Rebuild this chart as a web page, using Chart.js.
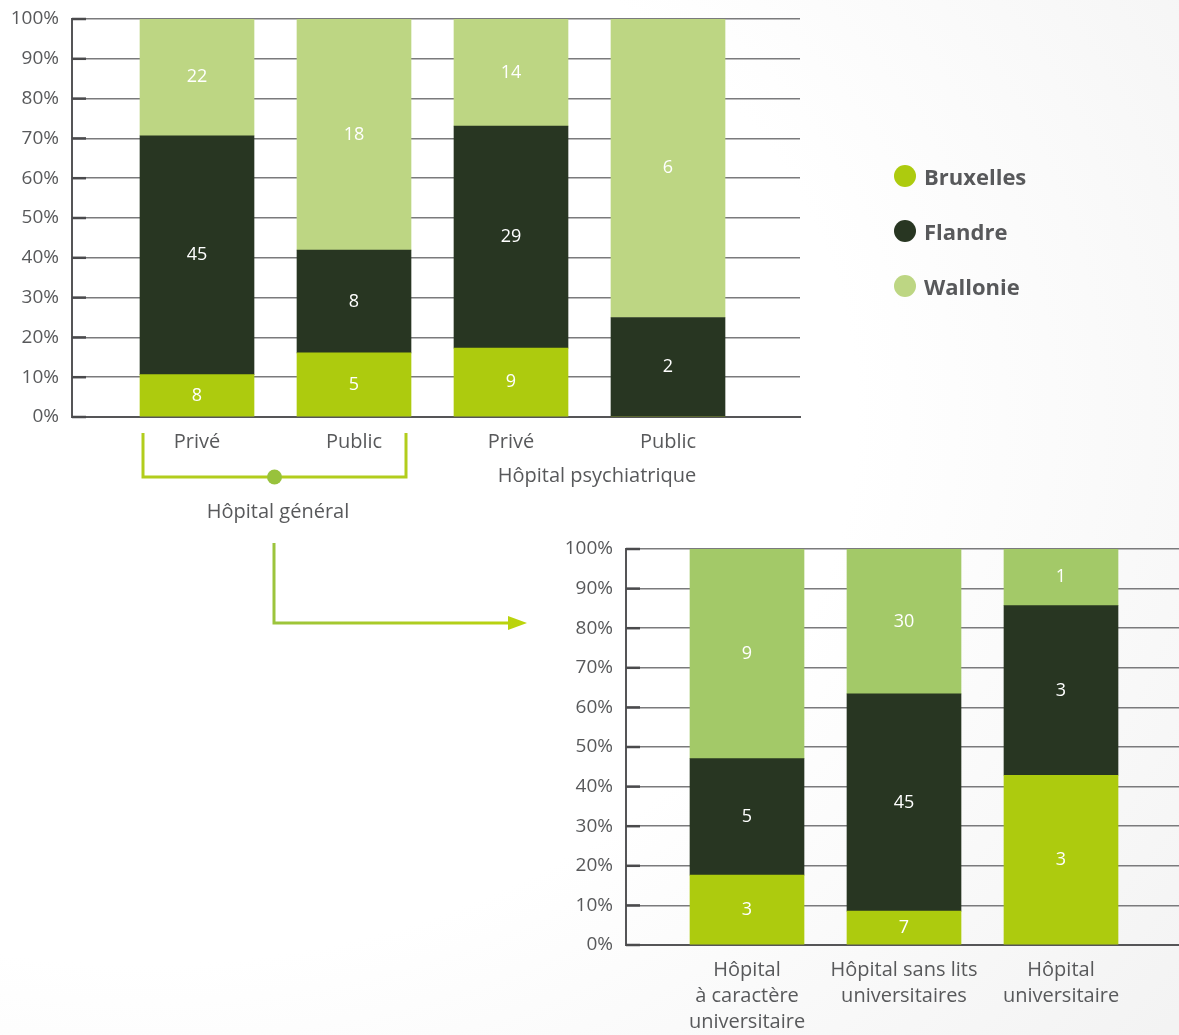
<!DOCTYPE html>
<html lang="fr">
<head>
<meta charset="utf-8">
<script src="https://cdn.jsdelivr.net/npm/chart.js@4.4.1/dist/chart.umd.min.js"></script>
<style>
    html, body { margin: 0; padding: 0; }
    body {
        width: 1179px; height: 1035px; position: relative; overflow: hidden;
        background: radial-gradient(ellipse 1300px 1000px at 12% 40%, #ffffff 55%, #f3f3f3 100%);
        font-family: "Open Sans", sans-serif;
    }
    canvas { position: absolute; left: 0; }
    #chart_top { top: 0; }
    #chart_bottom { top: 530px; }
    .legend { position: absolute; left: 894px; top: 148px; }
    .legend div { height: 55px; display: flex; align-items: center; font-weight: bold; font-size: 22px; color: #58595b; }
    .legend span { width: 22px; height: 22px; border-radius: 50%; margin-right: 8px; display: inline-block; }
</style>
</head>
<body>
<canvas id="chart_top" width="1179" height="540"></canvas>
<canvas id="chart_bottom" width="1179" height="505"></canvas>
<div class="legend">
    <div><span style="background:#adcb0e"></span>Bruxelles</div>
    <div><span style="background:#283622"></span>Flandre</div>
    <div><span style="background:#bdd683"></span>Wallonie</div>
</div>
<script>
// données (nombre d'hôpitaux)
const topLabels = ['Privé', 'Public', 'Privé', 'Public'];
const topBruxelles = [8, 5, 9, 0];
const topFlandre = [45, 8, 29, 2];
const topWallonie = [22, 18, 14, 6];

const bottomLabels = [['Hôpital', 'à caractère', 'universitaire'], ['Hôpital sans lits', 'universitaires'], ['Hôpital', 'universitaire']];
const bottomBruxelles = [3, 7, 3];
const bottomFlandre = [5, 45, 3];
const bottomWallonie = [9, 30, 1];

const textColor = '#58595b';
const fontFamily = '"Open Sans", sans-serif';

// pourcentage de chaque région dans la barre
function toPercent(counts, a, b, c) {
    return counts.map((v, i) => ({ x: i, y: v / (a[i] + b[i] + c[i]) * 100 }));
}

const valuePlugin = {
    id: 'values',
    afterDatasetsDraw(chart) {
        const ctx = chart.ctx;
        ctx.save();
        ctx.font = '18px ' + fontFamily;
        ctx.fillStyle = '#fff';
        ctx.textAlign = 'center';
        ctx.textBaseline = 'middle';
        chart.data.datasets.forEach((ds, di) => {
            chart.getDatasetMeta(di).data.forEach((bar, i) => {
                if (!ds.counts[i]) return;
                ctx.fillText(ds.counts[i], bar.x, (bar.y + bar.base) / 2);
            });
        });
        ctx.restore();
    }
};

const stubPlugin = {
    id: 'stubs',
    beforeDatasetsDraw(chart) {
        const ctx = chart.ctx;
        const ys = chart.scales.y;
        const left = chart.chartArea.left;
        ctx.save();
        ctx.strokeStyle = '#4a4a4c';
        ctx.lineWidth = 2.5;
        ys.ticks.forEach(t => {
            const y = ys.getPixelForValue(t.value);
            ctx.beginPath();
            ctx.moveTo(left, y);
            ctx.lineTo(left + 14, y);
            ctx.stroke();
        });
        ctx.restore();
    }
};

function makeDatasets(labels, brux, fland, wall, wallColor) {
    return [
        { label: 'Bruxelles', data: toPercent(brux, brux, fland, wall), counts: brux, backgroundColor: '#adcb0e', barThickness: 114 },
        { label: 'Flandre', data: toPercent(fland, brux, fland, wall), counts: fland, backgroundColor: '#283622', barThickness: 114 },
        { label: 'Wallonie', data: toPercent(wall, brux, fland, wall), counts: wall, backgroundColor: wallColor, barThickness: 114 }
    ];
}

function makeOptions(labels, xMin, xMax, yWidth, xHeight, padRight) {
    return {
        responsive: false,
        animation: false,
        layout: { autoPadding: false, padding: { top: 19, right: padRight, bottom: 0, left: 0 } },
        plugins: { legend: { display: false }, tooltip: { enabled: false } },
        scales: {
            x: {
                type: 'linear',
                stacked: true,
                offset: false,
                min: xMin,
                max: xMax,
                grid: { display: false },
                border: { display: true, color: '#555557', width: 2 },
                afterBuildTicks: s => { s.ticks = labels.map((_, i) => ({ value: i })); },
                afterFit: s => { s.height = xHeight; },
                ticks: {
                    autoSkip: false,
                    maxRotation: 0,
                    padding: 4,
                    color: textColor,
                    font: { family: fontFamily, size: 20, lineHeight: 1.3 },
                    callback: v => labels[v]
                }
            },
            y: {
                stacked: true,
                min: 0,
                max: 100,
                grid: { color: '#7a7a7c', lineWidth: 1.5, drawTicks: false },
                border: { color: '#555557', width: 2 },
                afterFit: s => { s.width = yWidth; },
                ticks: {
                    stepSize: 10,
                    padding: 13,
                    color: textColor,
                    font: { family: fontFamily, size: 19, lineHeight: 0.5 },
                    callback: v => v + '%'
                }
            }
        }
    };
}

document.addEventListener('DOMContentLoaded', function () {
    // graphique du haut + accolade "Hôpital général"
    const topNotes = {
        id: 'topNotes',
        afterDraw(chart) {
            const ctx = chart.ctx;
            const xs = chart.scales.x;
            const x0 = xs.getPixelForValue(0) - 54;
            const x1 = xs.getPixelForValue(1) + 52;
            ctx.save();
            ctx.strokeStyle = '#b2cd1c';
            ctx.lineWidth = 3;
            ctx.beginPath();
            ctx.moveTo(x0, 433);
            ctx.lineTo(x0, 477);
            ctx.lineTo(x1, 477);
            ctx.lineTo(x1, 433);
            ctx.stroke();
            ctx.fillStyle = '#98c23c';
            ctx.beginPath();
            ctx.arc((x0 + x1) / 2, 477, 7.5, 0, Math.PI * 2);
            ctx.fill();
            ctx.fillStyle = textColor;
            ctx.font = '20px ' + fontFamily;
            ctx.textAlign = 'center';
            ctx.textBaseline = 'middle';
            ctx.fillText('Hôpital général', 278, 512);
            ctx.fillText('Hôpital psychiatrique', 597, 476);
            ctx.restore();
        }
    };

    new Chart(document.getElementById('chart_top'), {
        type: 'bar',
        data: { datasets: makeDatasets(topLabels, topBruxelles, topFlandre, topWallonie, '#bdd683') },
        options: makeOptions(topLabels, -125 / 157, -125 / 157 + 728 / 157, 72, 123, 379),
        plugins: [stubPlugin, valuePlugin, topNotes]
    });

    // flèche vers le détail des hôpitaux généraux
    const arrowPlugin = {
        id: 'arrow',
        afterDraw(chart) {
            const ctx = chart.ctx;
            const grad = ctx.createLinearGradient(274, 0, 526, 0);
            grad.addColorStop(0, '#9cc43c');
            grad.addColorStop(1, '#bcd40a');
            ctx.save();
            ctx.strokeStyle = grad;
            ctx.fillStyle = grad;
            ctx.lineWidth = 3;
            ctx.beginPath();
            ctx.moveTo(274, 13);
            ctx.lineTo(274, 93);
            ctx.lineTo(512, 93);
            ctx.stroke();
            ctx.beginPath();
            ctx.moveTo(508, 86);
            ctx.lineTo(527, 93);
            ctx.lineTo(508, 100);
            ctx.closePath();
            ctx.fill();
            ctx.restore();
        }
    };

    new Chart(document.getElementById('chart_bottom'), {
        type: 'bar',
        data: { datasets: makeDatasets(bottomLabels, bottomBruxelles, bottomFlandre, bottomWallonie, '#a3c968') },
        options: makeOptions(bottomLabels, -121 / 157, -121 / 157 + 553 / 157, 626, 90, 0),
        plugins: [stubPlugin, valuePlugin, arrowPlugin]
    });
});
</script>
</body>
</html>
